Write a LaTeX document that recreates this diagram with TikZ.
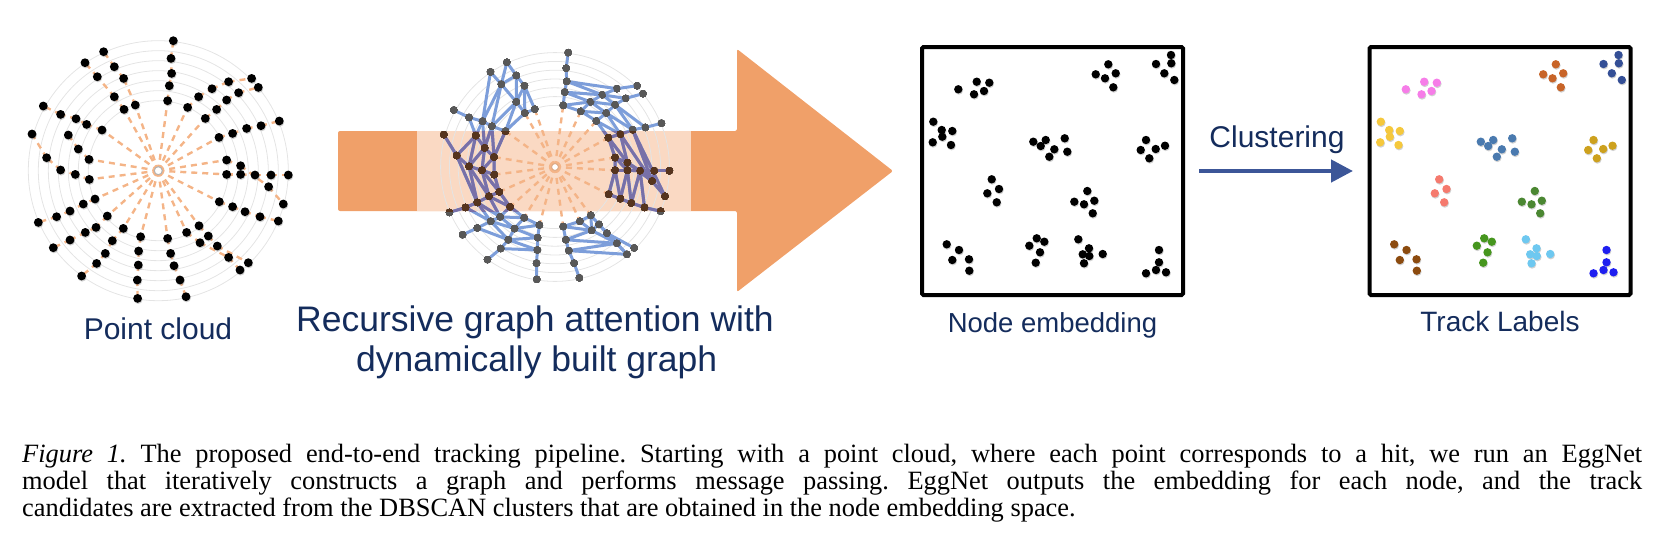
\documentclass[tikz,border=0pt]{standalone}
\usepackage{fontspec}
\setmainfont{Liberation Serif}
\newfontfamily\labelfont{Liberation Sans}
\usetikzlibrary{calc,arrows.meta,shadows}
\frenchspacing

\definecolor{labelnavy}{RGB}{20,44,92}
\definecolor{arroworange}{RGB}{240,160,105}
\definecolor{bandorange}{RGB}{250,217,195}
\definecolor{raycolor}{RGB}{244,180,135}
\definecolor{ringgray}{RGB}{228,228,228}
\definecolor{gedge}{RGB}{125,158,218}
\definecolor{gnode}{RGB}{88,88,88}
\definecolor{gedgein}{RGB}{120,112,168}
\definecolor{gnodein}{RGB}{86,52,30}
\definecolor{arrowblue}{RGB}{60,86,152}
\definecolor{pinkc}{RGB}{246,125,232}
\definecolor{rustc}{RGB}{200,100,40}
\definecolor{navyc}{RGB}{52,79,150}
\definecolor{yellowc}{RGB}{245,200,60}
\definecolor{steelc}{RGB}{74,122,175}
\definecolor{goldc}{RGB}{205,161,30}
\definecolor{salmonc}{RGB}{245,122,110}
\definecolor{greenc}{RGB}{75,135,50}
\definecolor{brownc}{RGB}{140,75,15}
\definecolor{leafc}{RGB}{70,150,30}
\definecolor{skyc}{RGB}{110,200,240}
\definecolor{bluec}{RGB}{30,30,240}

% hits of the point cloud, one entry per track (px from the centre, y down)
\newcommand\tracklist{%
  1/{9.3/-70, 11/-85, 13.3/-97.3, 12.7/-112.3, 15/-130},
  2/{-23/-65.7, -34.7/-92.3, -44/-104, -54.7/-119},
  3/{-34.3/-61.3, -44/-74, -61/-94, -73.3/-108},
  4/{-56.3/-40.7, -71.7/-46.3, -82.3/-52, -97.7/-56.3, -115/-64.7},
  5/{-69.3/-11.3, -80/-21.7, -90/-35.7},
  6/{-69/8.7, -83/3.7, -97.7/-0.7, -111.7/-13, -126.3/-36.7},
  7/{-63.3/28.3, -75/33.3, -88.3/40.3, -101.7/46, -120/51.7},
  8/{-51/45.3, -62.3/56.7, -73/61.7, -88.3/69.3, -105/77},
  9/{-35/57.7, -46/70, -53/82.7, -61.7/92.7, -76.7/105.3},
  10/{-17.7/66, -19.7/80.3, -20/94.3, -21/109.3, -20.7/127.7},
  11/{9.3/67.7, 12.3/82.7, 15.7/95, 21.7/109.3, 27.7/126},
  12/{28.3/61.7, 41.7/72, 70.3/86.7, 81.7/99.3},
  13/{40.7/55, 50/65.3, 59/75.3, 90/92},
  14/{61/31, 74.3/36, 86.7/41, 101.7/46, 120/50.3},
  15/{68.3/3.7, 82.3/3.7, 96.7/4.3, 112.7/4.3, 130/4.3},
  16/{68.3/-10.7, 82.3/-5, 110.3/16, 125/33.3},
  17/{60.7/-33.3, 74.3/-37.3, 88.3/-42.3, 102.7/-45, 121/-49.7},
  18/{47/-52.3, 58.3/-61.3, 68.3/-70.7, 80.3/-78, 100/-83.3},
  19/{29.3/-63.3, 40.3/-74, 53.7/-82, 70.3/-89, 93.3/-92.3}}

% clusters in the embedding space (px from the box corner)
\newcommand\clusterlist{%
  pinkc/{38.3/44.3, 56.7/36.7, 69.3/37.7, 64/46, 54/49.3},
  rustc/{188.3/19.3, 175.7/29.3, 185/33.3, 195.7/28.3, 193.3/42.3},
  navyc/{251/10, 236/19, 251.3/18.3, 244.3/28.3, 254.3/35},
  yellowc/{13.3/76.7, 21.7/85, 32.3/86, 22.3/91.7, 12.7/97.3, 31/100},
  steelc/{113.3/96.7, 125.7/95, 120.7/101, 134.3/104.3, 144.7/93.3, 147.3/106.7, 129.3/111.7},
  goldc/{226/95, 220.7/105, 235.7/104, 245/100.7, 229.3/113.3},
  salmonc/{71.7/134.3, 79/144, 67.3/148.3, 76.7/157.3},
  greenc/{167.3/146, 154.3/156.7, 164/159.3, 174.3/155.7, 172.7/168.3},
  brownc/{26.7/199.3, 39/205, 32.3/215, 49/214.3, 49.3/225.7},
  leafc/{116.7/193.3, 109.3/200.7, 124.3/196.7, 120/207.3, 115.7/217.7},
  skyc/{158.3/194.3, 169/203.3, 162.7/209.3, 169.3/211, 182.7/209, 164/218.3},
  bluec/{239/205, 239/217.3, 236/225, 226/228.3, 246/227.3}}

% edges and nodes of the built graph
\newcommand\drawgraph[2]{%
  \foreach \a/\b in {19/1,18/19,17/18,2/3,3/4,4/5,6/5,6/7,7/8,8/9,9/10,12/11,12/13,14/15,15/16,16/17}
    \foreach \i/\k in {1/2,2/3,3/4}
      \draw[graphlink, draw=#1] (g\a-\i) -- (g\b-\i) (g\a-\k) -- (g\b-\i);
  \foreach \t/\pts in \tracklist
    \foreach \px/\py [count=\i, remember=\i as \j (initially 0)] in \pts {
      \ifnum\j>0 \draw[graphlink, draw=#1] (g\t-\j) -- (g\t-\i); \fi
    }
  \foreach \t/\pts in \tracklist
    \foreach \px/\py [count=\i] in \pts
      \fill[#2] (g\t-\i) circle (3.6pt);
}

\tikzset{
  cloudring/.style={draw=ringgray, line width=0.8pt},
  cloudray/.style={draw=raycolor, line width=2.4pt, dash pattern=on 6pt off 5pt},
  hit/.style={fill=black, drop shadow={shadow xshift=0.6pt, shadow yshift=-1.2pt, opacity=0.3, fill=black!60}},
  graphlink/.style={line width=3pt, line cap=round},
  embbox/.style={draw, line width=4pt, minimum width=261pt, minimum height=248pt, inner sep=0pt, rounded corners=1.5pt},
  stagelabel/.style={text=labelnavy, inner sep=0pt, anchor=base},
  capline/.style={inner sep=0pt, anchor=base west, font=\fontsize{26.4}{30}\selectfont},
  clusterarrow/.style={draw=arrowblue, line width=4.5pt, -{Triangle[length=22pt,width=22pt]}},
}

\begin{document}
\begin{tikzpicture}[x=1pt, y=-1pt]
  \useasboundingbox (0,0) rectangle (1674,538);
  \coordinate (lc) at (158.3,170.7);
  \coordinate (gc) at (555,167);

  % positions of the hits in both clouds
  \foreach \t/\pts in \tracklist {
    \coordinate (l\t-0) at (lc);
    \foreach \px/\py [count=\i] in \pts {
      \coordinate (l\t-\i) at ([shift={(\px,\py)}]lc);
      \coordinate (g\t-\i) at ($(gc)+0.88*(\px,\py)$);
    }
  }

  % point cloud
  \foreach \r in {70,80,...,130} \draw[cloudring] (lc) circle (\r pt);
  \foreach \t/\pts in \tracklist
    \foreach \px/\py [count=\i, remember=\i as \j (initially 0)] in \pts
      \draw[cloudray] (l\t-\j) -- (l\t-\i);
  \foreach \t/\pts in \tracklist
    \foreach \px/\py [count=\i] in \pts
      \fill[hit] (l\t-\i) circle (4.4pt);
  \filldraw[fill=white, draw=gray!60, line width=1pt] (lc) circle (4pt);
  \node[stagelabel, font=\labelfont\fontsize{30}{36}\selectfont] (cloudlabel) at (158,339) {Point cloud};

  % big arrow with the graph on it
  \fill[arroworange, rounded corners=2pt] (338,131) -- (737,131) -- (737,49) -- (893,171)
    -- (737,292) -- (737,211) -- (338,211) -- cycle;
  \fill[bandorange] (417,131) rectangle (691,211);
  \foreach \r [evaluate=\r as \gr using 0.88*\r] in {70,80,...,130} \draw[cloudring] (gc) circle (\gr pt);
  \foreach \t/\pts in \tracklist \draw[cloudray] (gc) -- (g\t-1);
  \drawgraph{gedge}{gnode}
  \begin{scope}
    \clip (417,131) rectangle (691,211);
    \drawgraph{gedgein}{gnodein}
  \end{scope}
  \filldraw[fill=white, draw=raycolor!80!gray, line width=1pt] (gc) circle (3.5pt);
  \node[stagelabel, font=\labelfont\fontsize{35.5}{40}\selectfont] (gnnlabel) at (535,331.7) {Recursive graph attention with};
  \node[stagelabel, font=\labelfont\fontsize{35.5}{40}\selectfont] (gnnlabel2) at (536.7,371.7) {dynamically built graph};

  % embedding and track labels
  \node[embbox] (embed) at (1052.5,171) {};
  \node[embbox] (tracks) at (1500,171) {};
  \foreach \col/\pts in \clusterlist
    \foreach \px/\py in \pts {
      \fill[hit] ([shift={(\px,\py)}]embed.north west) circle (4.2pt);
      \fill[hit, fill=\col] ([shift={(\px,\py)}]tracks.north west) circle (4.2pt);
    }
  \node[stagelabel, font=\labelfont\fontsize{27.5}{33}\selectfont] (embedlabel) at (1052.5,332) {Node embedding};
  \node[stagelabel, font=\labelfont\fontsize{28}{33}\selectfont] (tracklabel) at (1500,331.7) {Track Labels};
  \draw[clusterarrow] ([xshift=14pt]embed.east) -- ([xshift=-14.5pt]tracks.west);
  \node[stagelabel, font=\labelfont\fontsize{30}{36}\selectfont] (clusterlabel) at (1277,147.3) {Clustering};

  % caption
  \node[capline] (caption1) at (22,462.5) {\makebox[1620pt][s]{\textit{Figure 1.} The proposed end-to-end tracking pipeline. Starting with a point cloud, where each point corresponds to a hit, we run an EggNet}};
  \node[capline] (caption2) at (22,489.5) {\makebox[1620pt][s]{model that iteratively constructs a graph and performs message passing. EggNet outputs the embedding for each node, and the track}};
  \node[capline] (caption3) at (22,516.5) {candidates are extracted from the DBSCAN clusters that are obtained in the node embedding space.};
\end{tikzpicture}
\end{document}
